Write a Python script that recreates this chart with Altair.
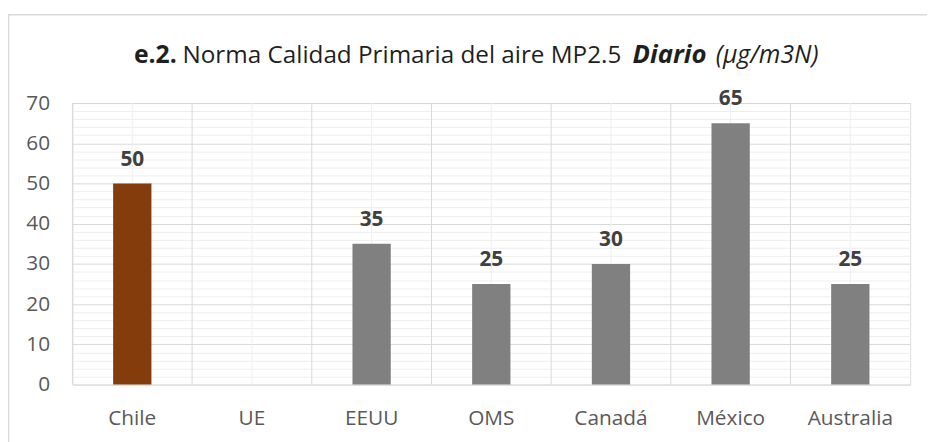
import altair as alt
import pandas as pd

# ---- data ----
categories = ["Chile", "UE", "EEUU", "OMS", "Canadá", "México", "Australia"]
values = [50, None, 35, 25, 30, 65, 25]

# ---- styles ----
bar_colors = ["#843C0C", "#808080", "#808080", "#808080", "#808080", "#808080", "#808080"]
FONT = "Open Sans"
W, H = 845, 284

df = pd.DataFrame({"Pais": categories, "Valor": values})

x_scale = alt.Scale(domain=categories, paddingInner=0, paddingOuter=0)
x_axis = alt.Axis(
    title=None, labelAngle=0, ticks=False, domain=False, grid=False,
    labelFont=FONT, labelFontSize=21, labelColor="#595959", labelPadding=23,
)
y_scale = alt.Scale(domain=[0, 70], nice=False)
y_axis = alt.Axis(
    title=None, values=list(range(0, 72, 2)), ticks=False, domain=False,
    grid=True,
    gridColor=alt.condition("datum.value % 10 === 0", alt.value("#d9d9d9"), alt.value("#eeeeee")),
    labelExpr="datum.value % 10 === 0 ? datum.label : ''",
    labelFont=FONT, labelFontSize=21, labelColor="#595959", labelPadding=23,
)

x_enc = alt.X("Pais:N", scale=x_scale, sort=categories, axis=x_axis)
y_enc = alt.Y("Valor:Q", scale=y_scale, axis=y_axis)

one = pd.DataFrame({"k": [0]})

border = alt.Chart(one).mark_rect(fill=None, stroke="#d9d9d9", strokeWidth=1.5).encode(
    x=alt.value(-64.5), x2=alt.value(900), y=alt.value(-89), y2=alt.value(400)
)

centers = alt.Chart(df).mark_rule(color="#eeeeee", strokeWidth=1).encode(
    x=x_enc, y=alt.value(0), y2=alt.value(H)
)

bounds = alt.Chart(df).mark_rule(color="#d9d9d9", strokeWidth=1).encode(
    x=alt.X("Pais:N", scale=x_scale, sort=categories, axis=x_axis, bandPosition=0),
    y=alt.value(0), y2=alt.value(H)
)

bars = alt.Chart(df).mark_bar(width=alt.RelativeBandSize(0.32)).encode(
    x=x_enc,
    y=y_enc,
    color=alt.Color("Pais:N", scale=alt.Scale(domain=categories, range=bar_colors), legend=None),
)

labels = alt.Chart(df).mark_text(
    font=FONT, fontSize=21, fontWeight="bold", color="#404040", baseline="alphabetic", dy=-18
).encode(x=x_enc, y=y_enc, text=alt.Text("Valor:Q", format="d"))

TY = -40
def ttext(txt, x, weight="normal", style="normal", size=25):
    return alt.Chart(one).mark_text(
        text=txt, font=FONT, fontSize=size, fontWeight=weight, fontStyle=style,
        color="#1f1f1f", align="left", baseline="alphabetic",
    ).encode(x=alt.value(x), y=alt.value(TY))

t1 = ttext("e.2.", 135 - 73, weight="bold")
t2 = ttext("Norma Calidad Primaria del aire MP2.5", 184 - 73, size=24.5)
t3 = ttext("Diario", 638 - 73, weight="bold", style="italic", size=26)
t4 = ttext("(µg/m3N)", 722 - 73, style="italic", size=25)

chart = alt.layer(border, centers, bounds, bars, labels, t1, t2, t3, t4).properties(
    width=W, height=H,
    padding={"left": 65, "top": 94, "right": 17, "bottom": 56},
    autosize="none",
).configure_view(stroke="#d9d9d9", strokeWidth=1).configure(background="white")

chart.save("out.html", embed_options={"renderer": "svg", "actions": False})
